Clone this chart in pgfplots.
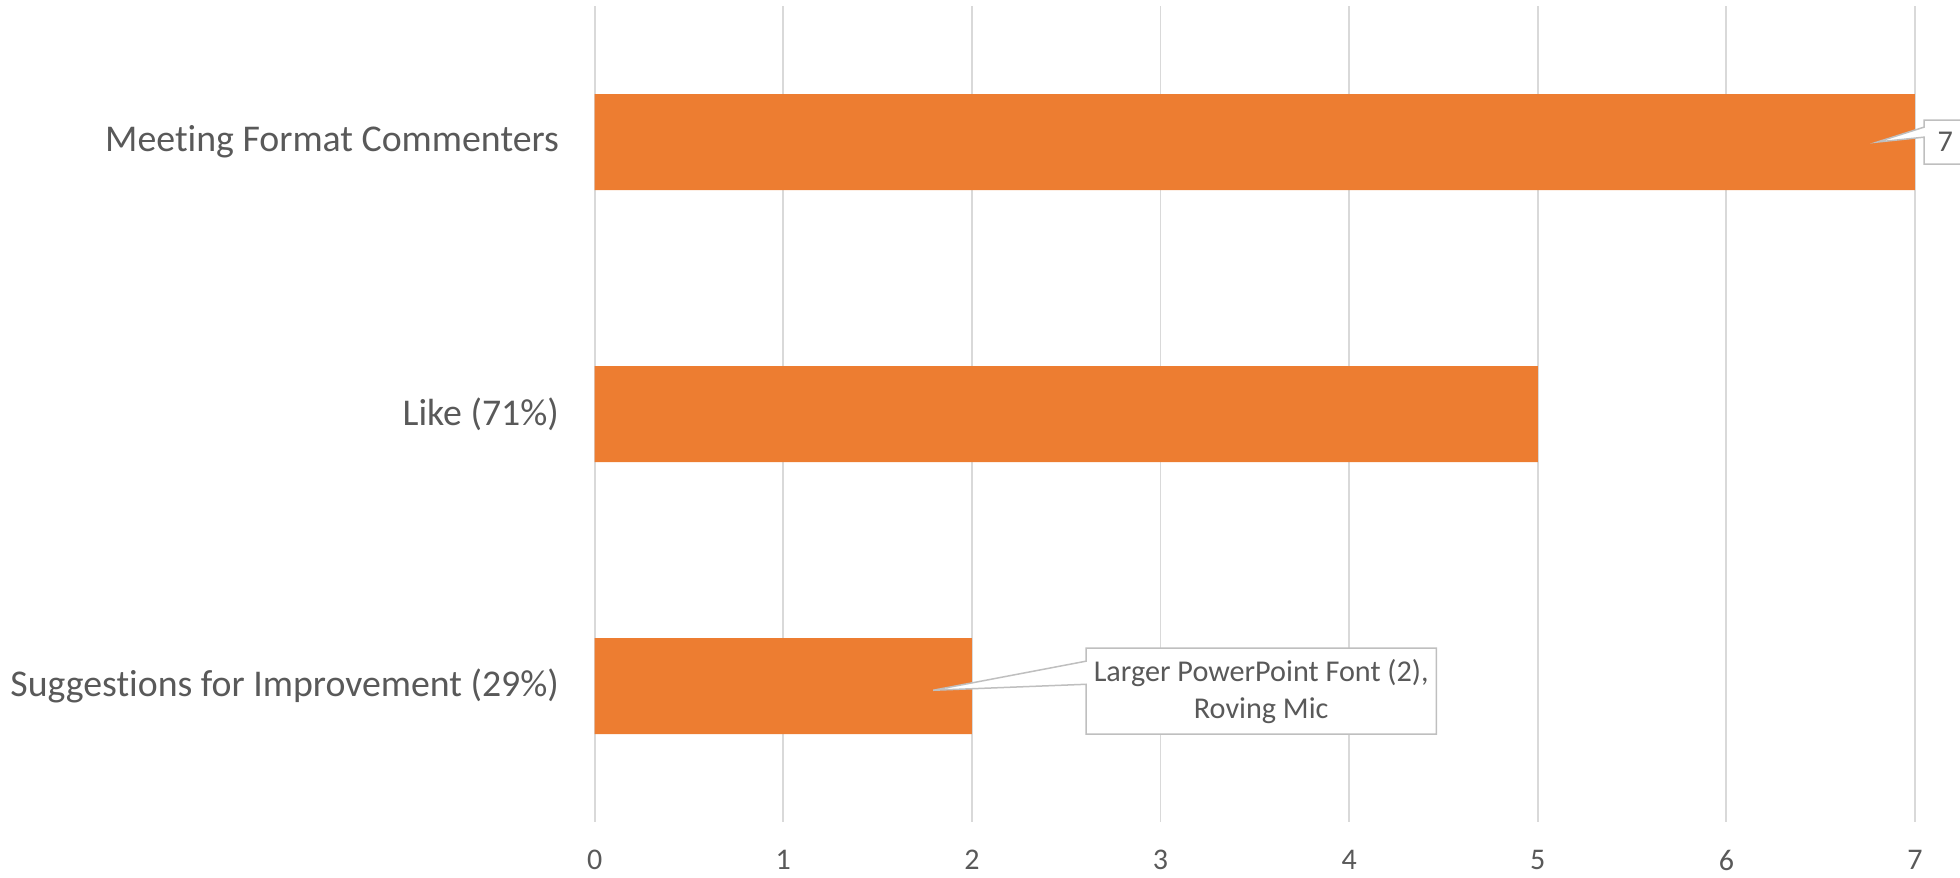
\documentclass[border=0pt]{standalone}
\usepackage{pgfplots}
\pgfplotsset{compat=1.18}
\usepackage{fontspec}
\setmainfont[Ligatures=NoCommon]{Carlito}

\definecolor{barorange}{HTML}{ED7D31}
\definecolor{txtgrey}{HTML}{595959}
\definecolor{gridgrey}{HTML}{D9D9D9}
\definecolor{calloutgrey}{HTML}{BFBFBF}

\begin{document}
\begin{tikzpicture}
\begin{axis}[
  name=ax,
  scale only axis,
  width=660pt, height=408pt,
  xbar, bar width=0.353,
  xmin=0, xmax=7,
  ymin=-0.5, ymax=2.5,
  y dir=reverse,
  xtick={0,1,...,7},
  ytick={0,1,2},
  yticklabels={Meeting Format Commenters, Like (71\%), Suggestions for Improvement (29\%)},
  axis line style={draw=none},
  major tick style={draw=none},
  xmajorgrids,
  grid style={gridgrey, line width=0.9pt},
  /pgf/number format/assume math mode=true,
  xticklabel style={font=\fontsize{15}{18}\selectfont, text=txtgrey, anchor=center, yshift=-19pt},
  yticklabel style={font=\fontsize{18.9}{22}\selectfont, text=txtgrey, anchor=east, inner sep=0pt, xshift=-13.4pt},
  clip=false,
]
\addplot[fill=barorange, draw=none] coordinates {(7,0) (5,1) (2,2)};

% value callout for the top bar
\draw[fill=white, draw=calloutgrey, line width=0.75pt]
  (7.049,-0.081) -- (7.45,-0.081) -- (7.45,0.081) -- (7.049,0.081)
  -- (7.049,-0.018) -- (6.80,0.0) -- (7.049,-0.055) -- cycle;
\node[text=txtgrey, font=\fontsize{15.1}{18.5}\selectfont] at (7.161,0) {7};

% comment callout for the bottom bar
\draw[fill=white, draw=calloutgrey, line width=0.75pt]
  (2.606,1.860) -- (4.462,1.860) -- (4.462,2.176) -- (2.606,2.176)
  -- (2.606,1.993) -- (1.795,2.015) -- (2.606,1.908) -- cycle;
\node[text=txtgrey, font=\fontsize{15.1}{18.5}\selectfont, align=center, inner sep=0pt]
  at (3.534,2.018) {Larger PowerPoint Font (2),\\Roving Mic};
\end{axis}
\pgfresetboundingbox
\path[use as bounding box] ([xshift=-297.25pt,yshift=-27.5pt]ax.south west)
  rectangle ([xshift=22.5pt,yshift=3pt]ax.north east);
\end{tikzpicture}
\end{document}
